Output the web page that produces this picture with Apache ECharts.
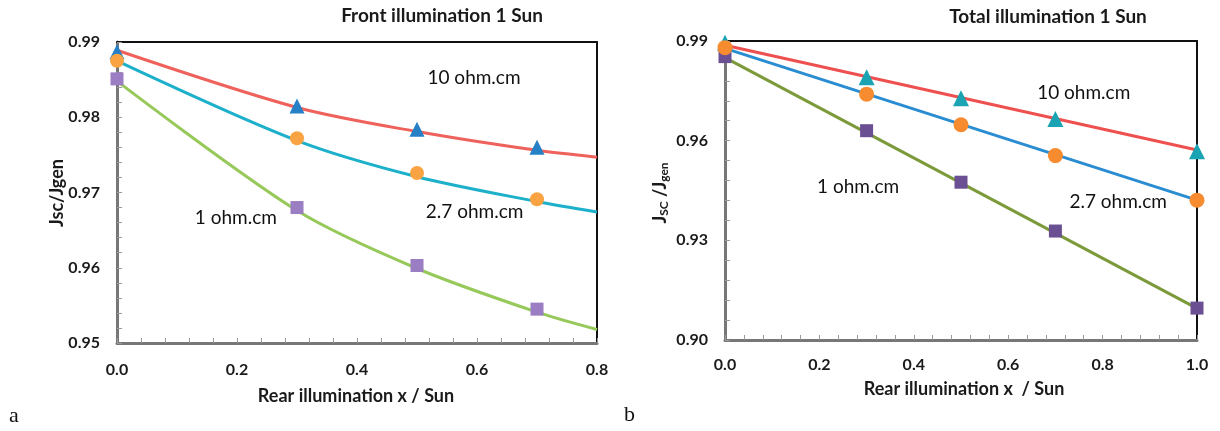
<!DOCTYPE html>
<html>
<head>
<meta charset="utf-8">
<script src="https://cdn.jsdelivr.net/npm/echarts@6/dist/echarts.min.js"></script>
<style>
  html, body { margin: 0; padding: 0; background: #fff; }
  #chart { width: 1220px; height: 431px; }
</style>
</head>
<body>
<div id="chart"></div>
<script>
// panel a : front illumination 1 Sun
const aLine10  = [[0, 0.9889], [0.3, 0.9813], [0.5, 0.9781], [0.7, 0.9756], [0.8, 0.9747]]
const aLine27  = [[0, 0.9875], [0.3, 0.9769], [0.5, 0.9721], [0.7, 0.9688], [0.8, 0.9674]]
const aLine1   = [[0, 0.9848], [0.3, 0.9676], [0.5, 0.9599], [0.7, 0.9541], [0.8, 0.9518]]
const aPts10   = [[0, 0.9887], [0.3, 0.9815], [0.5, 0.9784], [0.7, 0.9760]]
const aPts27   = [[0, 0.9875], [0.3, 0.9772], [0.5, 0.9726], [0.7, 0.9691]]
const aPts1    = [[0, 0.9851], [0.3, 0.9680], [0.5, 0.9603], [0.7, 0.9545]]
const aNotes   = [['10 ohm.cm', 0.595, 0.9852], ['2.7 ohm.cm', 0.596, 0.9674], ['1 ohm.cm', 0.198, 0.9666]]

// panel b : total illumination 1 Sun
const bLine10  = [[0, 0.9887], [1, 0.9572]]
const bLine27  = [[0, 0.9878], [1, 0.9421]]
const bLine1   = [[0, 0.9850], [1, 0.9095]]
const bPts10   = [[0, 0.9895], [0.3, 0.9791], [0.5, 0.9728], [0.7, 0.9665], [1, 0.9568]]
const bPts27   = [[0, 0.9880], [0.3, 0.9740], [0.5, 0.9648], [0.7, 0.9555], [1, 0.9421]]
const bPts1    = [[0, 0.9853], [0.3, 0.9630], [0.5, 0.9475], [0.7, 0.9328], [1, 0.9096]]
const bNotes   = [['10 ohm.cm', 0.76, 0.9744], ['2.7 ohm.cm', 0.833, 0.9417], ['1 ohm.cm', 0.282, 0.9462]]

const FONT = 'Lato'
const INK = '#1a1a1a'

function bottomAxis(idx, max, gap) {
  return {
    type: 'value', gridIndex: idx, min: 0, max: max, interval: 0.2,
    axisLine: { lineStyle: { color: '#777', width: 3 } },
    axisTick: { inside: true, length: 5, lineStyle: { color: '#999' } },
    minorTick: { show: true, splitNumber: 5, length: 5, lineStyle: { color: '#999' } },
    splitLine: { show: false },
    axisLabel: { margin: gap, fontFamily: FONT, fontWeight: 'bold', fontSize: 16, color: INK,
      formatter: v => v.toFixed(1) }
  }
}
function leftAxis(idx, min, max, step) {
  return {
    type: 'value', gridIndex: idx, min: min, max: max, interval: step,
    axisLine: { show: true, lineStyle: { color: '#777', width: 3 } },
    axisTick: { show: true, inside: true, length: 5, lineStyle: { color: '#999' } },
    minorTick: { show: true, splitNumber: 5, length: 5, lineStyle: { color: '#999' } },
    splitLine: { show: false },
    axisLabel: { margin: 17, fontFamily: FONT, fontWeight: 'bold', fontSize: 16, color: INK,
      formatter: v => v.toFixed(2) }
  }
}
function borderAxis(kind, idx, min, max) {
  return {
    type: 'value', gridIndex: idx, min: min, max: max,
    position: kind === 'x' ? 'top' : 'right',
    axisLine: { show: true, onZero: false, lineStyle: { color: '#111', width: 2 } },
    axisTick: { show: false }, axisLabel: { show: false }, splitLine: { show: false }
  }
}

function line(xi, yi, data, color) {
  return { type: 'line', xAxisIndex: xi, yAxisIndex: yi, data: data, smooth: 0.3,
    showSymbol: false, lineStyle: { color: color, width: 3 }, z: 2 }
}
function pts(xi, yi, data, symbol, color, size) {
  return { type: 'scatter', xAxisIndex: xi, yAxisIndex: yi, data: data, symbol: symbol,
    symbolSize: size, itemStyle: { color: color, opacity: 1 }, clip: false, z: 3 }
}
function notes(xi, yi, list) {
  return { type: 'scatter', xAxisIndex: xi, yAxisIndex: yi, symbolSize: 0, silent: true,
    data: list.map(n => ({ name: n[0], value: [n[1], n[2]] })),
    label: { show: true, position: 'inside', formatter: p => p.name, opacity: 1,
      fontFamily: FONT, fontSize: 19, color: '#111' }, z: 4 }
}

const chart = echarts.init(document.getElementById('chart'))
chart.setOption({
  animation: false,
  backgroundColor: '#fff',
  grid: [
    { left: 117, top: 42, width: 480, height: 301 },
    { left: 725, top: 41, width: 472, height: 299 }
  ],
  xAxis: [bottomAxis(0, 0.8, 19), bottomAxis(1, 1.0, 17), borderAxis('x', 0, 0, 0.8), borderAxis('x', 1, 0, 1)],
  yAxis: [leftAxis(0, 0.95, 0.99, 0.01), leftAxis(1, 0.90, 0.99, 0.03),
          borderAxis('y', 0, 0.95, 0.99), borderAxis('y', 1, 0.90, 0.99)],
  series: [
    line(0, 0, aLine10, '#ef625c'),
    line(0, 0, aLine27, '#1db0ca'),
    line(0, 0, aLine1, '#97c95a'),
    pts(0, 0, aPts1, 'rect', '#9a7dc2', 13),
    pts(0, 0, aPts10, 'triangle', '#2580c6', 15),
    pts(0, 0, aPts27, 'circle', '#f9a343', 14),
    notes(0, 0, aNotes),

    line(1, 1, bLine10, '#ee5050'),
    line(1, 1, bLine27, '#2a8dd2'),
    line(1, 1, bLine1, '#7b9a3a'),
    pts(1, 1, bPts1, 'rect', '#6a5093', 13),
    pts(1, 1, bPts10, 'triangle', '#1aa3b3', 16),
    pts(1, 1, bPts27, 'circle', '#f68b30', 15),
    notes(1, 1, bNotes)
  ],
  graphic: [
    { type: 'text', x: 442, y: 16, style: { text: 'Front illumination 1 Sun', align: 'center',
      verticalAlign: 'middle', font: 'bold 19px ' + FONT, fill: INK } },
    { type: 'text', x: 1048, y: 17, style: { text: 'Total illumination 1 Sun', align: 'center',
      verticalAlign: 'middle', font: 'bold 19px ' + FONT, fill: INK } },
    { type: 'text', x: 356, y: 396, style: { text: 'Rear illumination x / Sun', align: 'center',
      verticalAlign: 'middle', font: 'bold 18px ' + FONT, fill: INK } },
    { type: 'text', x: 964, y: 389, style: { text: 'Rear illumination x  / Sun', align: 'center',
      verticalAlign: 'middle', font: 'bold 18px ' + FONT, fill: INK } },
    { type: 'text', x: 57, y: 193, rotation: Math.PI / 2, style: { text: 'Jsc/Jgen', align: 'center',
      verticalAlign: 'middle', font: 'bold 18px ' + FONT, fill: INK } },
    { type: 'text', x: 660, y: 193, rotation: Math.PI / 2, style: {
      text: '{b|J}{s|SC}{b| /J}{s|gen}', align: 'center', verticalAlign: 'middle',
      rich: {
        b: { font: 'bold 18px ' + FONT, fill: INK },
        s: { font: 'bold 12px ' + FONT, fill: INK, padding: [9, 0, 0, 0] }
      } } },
    { type: 'text', x: 9, y: 405, style: { text: 'a', font: '22px "Liberation Serif"', fill: '#111' } },
    { type: 'text', x: 624, y: 404, style: { text: 'b', font: '22px "Liberation Serif"', fill: '#111' } }
  ]
})
</script>
</body>
</html>
